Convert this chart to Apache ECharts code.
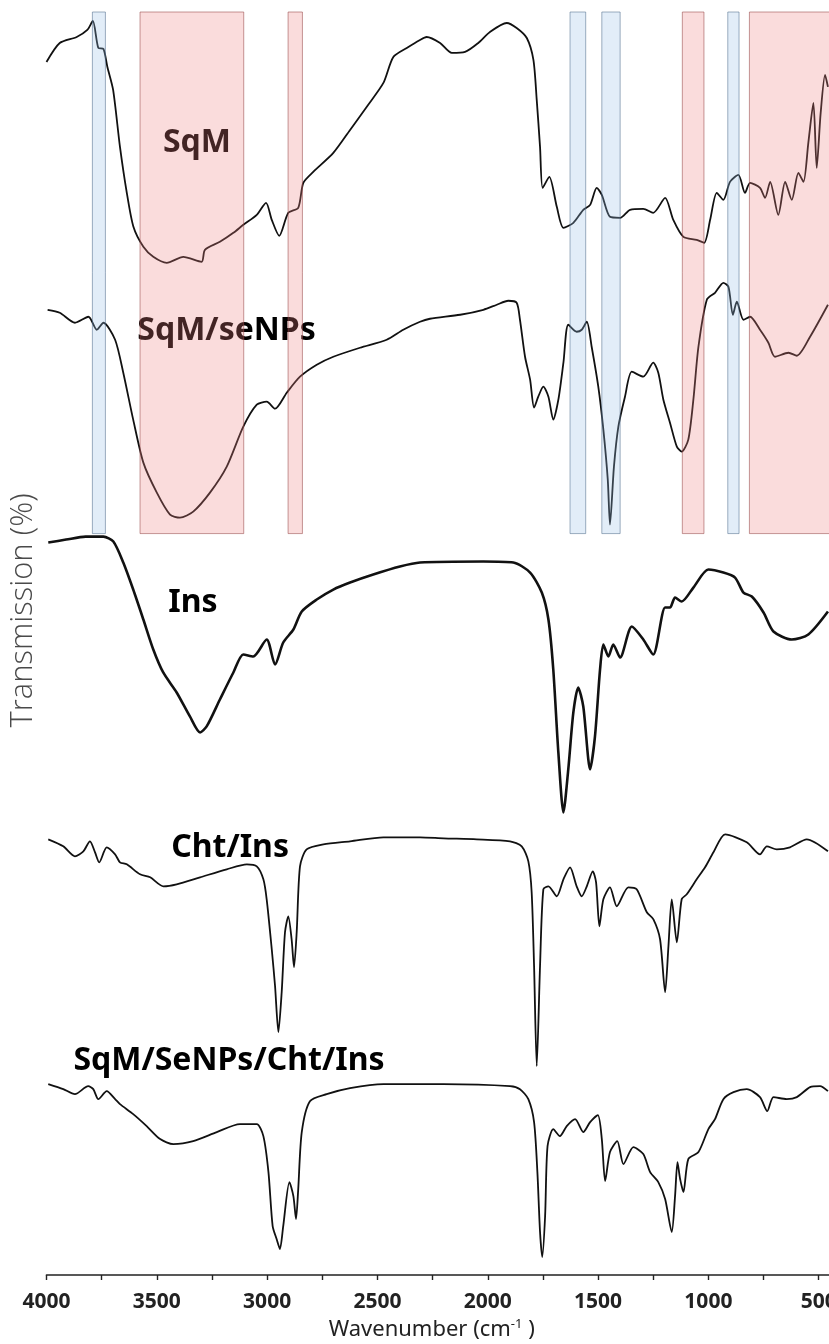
<!DOCTYPE html>
<html><head><meta charset="utf-8">
<script src="https://cdn.jsdelivr.net/npm/echarts/dist/echarts.min.js"></script>
<style>html,body{margin:0;padding:0;background:#fff}#c{width:829px;height:1344px}</style>
</head><body><div id="c"></div>
<script>
// Wavenumber (cm-1), offset transmission (a.u.)
const sqm = [[4000,121.4],[3940,123.3],[3863,123.9],[3815,124.6],[3790,125.5],[3765,122.8],[3742,122.7],[3724,120.9],[3698,118.6],[3667,112.9],[3636,108.3],[3606,104.9],[3561,102.9],[3516,101.9],[3455,101.3],[3380,101.9],[3297,101.4],[3282,102.6],[3214,103.4],[3153,104.3],[3108,105.1],[3047,106.1],[3005,107.3],[2979,105.6],[2945,104.0],[2904,106.3],[2859,106.8],[2836,109.3],[2791,110.4],[2700,112.3],[2624,114.6],[2549,116.9],[2473,119.3],[2428,121.9],[2367,122.8],[2307,123.6],[2277,123.9],[2216,123.3],[2163,122.3],[2103,122.4],[2043,123.3],[1990,124.4],[1914,125.3],[1869,124.8],[1823,123.8],[1793,121.6],[1778,117.6],[1763,112.9],[1751,108.8],[1721,109.9],[1687,106.9],[1657,104.8],[1612,105.3],[1567,106.6],[1536,107.1],[1506,108.8],[1483,108.1],[1446,105.9],[1400,105.8],[1355,106.6],[1295,106.7],[1250,106.3],[1196,107.8],[1159,105.6],[1113,103.9],[1053,103.6],[1019,103.3],[992,105.6],[962,108.3],[932,107.6],[902,109.4],[864,110.1],[834,108.3],[811,109.3],[766,108.8],[743,107.8],[720,109.4],[683,106.1],[652,109.4],[622,107.6],[592,110.3],[569,109.4],[547,113.3],[524,117.3],[509,110.8],[491,116.3],[471,120.1],[458,118.9]];
const sqmSe = [[3995,96.6],[3940,96.3],[3871,95.3],[3810,95.9],[3772,94.6],[3742,95.3],[3689,93.6],[3652,90.3],[3607,85.6],[3561,81.3],[3500,78.3],[3440,76.1],[3395,75.8],[3335,76.4],[3259,78.3],[3183,80.9],[3108,84.9],[3047,87.1],[3002,87.4],[2964,86.7],[2911,88.3],[2851,89.9],[2775,91.1],[2700,91.9],[2579,92.8],[2458,93.6],[2383,94.6],[2307,95.4],[2262,95.7],[2125,96.1],[2020,96.6],[1959,97.1],[1907,97.5],[1869,97.3],[1854,95.6],[1831,91.9],[1808,89.6],[1790,86.8],[1771,87.9],[1748,88.9],[1725,87.9],[1703,85.6],[1680,87.6],[1657,91.3],[1635,95.1],[1597,94.4],[1574,94.6],[1551,95.4],[1529,92.9],[1499,88.9],[1476,84.6],[1456,79.6],[1446,75.1],[1428,80.9],[1408,84.9],[1378,87.9],[1347,90.4],[1295,89.9],[1250,91.3],[1227,90.3],[1204,87.6],[1174,85.3],[1143,82.9],[1121,82.4],[1091,83.6],[1068,87.6],[1045,92.9],[1007,97.6],[970,98.3],[932,99.3],[909,98.9],[889,96.1],[871,97.4],[841,95.6],[811,95.9],[766,94.6],[728,93.3],[698,91.9],[637,92.3],[599,92.0],[539,93.9],[458,97.1]];
const ins = [[3992,73.3],[3911,73.6],[3823,73.9],[3742,73.9],[3697,73.4],[3652,71.3],[3607,68.6],[3561,65.6],[3516,62.6],[3471,60.3],[3410,58.3],[3350,55.9],[3304,54.3],[3274,54.9],[3214,57.6],[3153,60.3],[3108,62.1],[3063,61.9],[3002,63.6],[2964,61.1],[2927,63.3],[2881,64.6],[2843,66.4],[2775,67.6],[2700,68.6],[2624,69.3],[2519,70.1],[2398,70.9],[2307,71.3],[2020,71.4],[1884,71.3],[1808,70.3],[1755,68.3],[1725,65.6],[1703,60.6],[1680,52.3],[1657,46.3],[1635,50.6],[1612,56.3],[1590,58.8],[1567,56.9],[1536,50.6],[1514,53.9],[1491,60.6],[1476,63.1],[1453,61.9],[1431,63.1],[1400,61.8],[1347,64.9],[1295,63.6],[1250,62.1],[1196,66.8],[1174,66.8],[1151,67.8],[1121,67.4],[1068,68.8],[1000,70.6],[932,70.3],[879,69.8],[841,68.3],[803,67.9],[750,66.3],[705,64.4],[622,63.6],[547,64.1],[458,66.4]];
const chtIns = [[3992,43.6],[3924,42.9],[3871,41.9],[3833,42.4],[3803,43.4],[3780,42.3],[3761,41.3],[3727,42.8],[3689,42.1],[3667,41.3],[3636,41.1],[3576,40.1],[3530,39.8],[3470,38.9],[3410,39.1],[3304,39.8],[3183,40.6],[3092,41.1],[3047,40.9],[3017,39.6],[3002,37.6],[2979,32.6],[2964,28.9],[2949,24.3],[2934,28.3],[2919,34.3],[2904,35.9],[2889,33.6],[2878,30.8],[2866,34.3],[2851,40.9],[2821,42.6],[2745,43.1],[2624,43.4],[2473,43.8],[2307,43.8],[2201,43.7],[2050,43.6],[1899,43.4],[1846,42.9],[1816,41.4],[1801,38.3],[1790,30.9],[1778,20.9],[1763,30.9],[1748,38.6],[1725,38.9],[1687,37.9],[1657,39.6],[1627,40.8],[1597,38.9],[1574,37.9],[1551,38.9],[1524,40.4],[1509,39.3],[1494,34.9],[1476,37.6],[1446,38.8],[1415,36.9],[1363,38.8],[1325,38.6],[1279,36.3],[1249,35.6],[1219,33.6],[1196,28.3],[1181,32.9],[1166,37.6],[1143,33.3],[1121,37.6],[1098,38.1],[1053,39.6],[1015,40.8],[977,42.3],[924,44.1],[826,43.3],[766,42.1],[735,42.9],[690,42.6],[630,42.8],[554,43.6],[458,42.4]];
const sqmSeChtIns = [[3992,19.1],[3924,18.6],[3871,18.1],[3811,18.9],[3788,18.6],[3765,17.6],[3727,18.4],[3689,17.6],[3667,17.1],[3607,16.1],[3546,14.9],[3485,13.6],[3425,13.1],[3335,13.4],[3228,14.3],[3123,15.1],[3047,15.1],[3017,13.9],[2994,10.3],[2975,4.9],[2957,3.6],[2942,2.6],[2927,4.9],[2899,9.3],[2881,7.9],[2869,5.6],[2859,8.6],[2843,14.3],[2806,17.4],[2730,18.1],[2624,18.7],[2473,19.1],[2307,19.1],[2201,19.1],[1899,18.9],[1854,18.6],[1816,17.6],[1790,15.3],[1775,10.3],[1763,4.3],[1753,1.8],[1740,5.9],[1729,12.9],[1703,14.6],[1673,13.9],[1642,14.9],[1604,15.6],[1567,14.3],[1536,15.3],[1501,16.0],[1483,13.6],[1468,9.4],[1446,12.3],[1413,13.4],[1385,11.1],[1340,12.8],[1295,12.1],[1264,10.3],[1227,9.3],[1196,7.6],[1166,4.3],[1151,7.9],[1140,11.3],[1128,9.6],[1113,8.3],[1091,11.6],[1045,12.3],[1000,14.6],[970,15.6],[932,17.6],[886,18.3],[826,18.6],[766,17.8],[733,16.4],[705,17.8],[645,17.6],[599,17.8],[539,18.8],[494,18.9],[458,18.4]];

// Spectrum labels: [text, wavenumber, value]
const labels = [["SqM",3318,113.3],["SqM/seNPs",3184,94.5],["Ins",3336,67.3],["Cht/Ins",3168,42.7],["SqM/SeNPs/Cht/Ins",3173,21.4]];

// Highlight bands: [from, to, kind]
const bands = [[3792,3733,"b"],[3576,3106,"r"],[2905,2840,"r"],[1627,1556,"b"],[1483,1400,"b"],[1118,1020,"r"],[912,861,"b"],[814,0,"r"]];
const bandBottom = 74.2, bandTop = 126.4;
const xTicks = [4000,3500,3000,2500,2000,1500,1000,500];

const chart = echarts.init(document.getElementById('c'), null, {renderer:'canvas'});
const lineSeries = (d, w) => ({type:'line', data:d, showSymbol:false, smooth:0.25, z:2,
  lineStyle:{color:'#111', width:w, join:'round'}, silent:true, animation:false});
const narrow = "'Liberation Sans Narrow','Noto Sans',sans-serif";

chart.setOption({
  animation:false,
  backgroundColor:'#fff',
  grid:{left:46.5, top:12, bottom:69, right:-100, containLabel:false, outerBoundsMode:'none'},
  xAxis:{type:'value', min:0, max:4000, interval:500, inverse:true,
    axisLine:{show:true, onZero:false, lineStyle:{color:'#222', width:1.6}},
    axisTick:{show:true, length:5, lineStyle:{color:'#222', width:1.4}},
    minorTick:{show:true, splitNumber:2, length:5, lineStyle:{color:'#222', width:1.4}},
    splitLine:{show:false}, minorSplitLine:{show:false},
    axisLabel:{show:true, margin:17, color:'#222', fontSize:21, fontWeight:'bold', fontFamily:narrow,
      formatter: v => xTicks.includes(v) ? String(v) : ''},
    name:'Wavenumber (cm{sup|-1} )', nameLocation:'middle', nameGap:42,
    nameTextStyle:{fontSize:22, color:'#222', fontFamily:narrow,
      padding:[0,112,0,0], rich:{sup:{fontSize:13, verticalAlign:'top', padding:[0,0,10,0], fontFamily:narrow, color:'#222'}}}
  },
  yAxis:{type:'value', min:0, max:126.4,
    axisLine:{show:true, lineStyle:{color:'#222', width:1.6}},
    axisTick:{show:false}, axisLabel:{show:false}, splitLine:{show:false},
    name:'Transmission (%)', nameLocation:'middle', nameGap:8, nameRotate:90,
    nameTextStyle:{fontSize:31, color:'#4a4a4a', fontFamily:"'Open Sans',sans-serif", fontWeight:300, padding:[0,0,0,66]}
  },
  series:[
    lineSeries(sqm,1.8), lineSeries(sqmSe,1.8), lineSeries(ins,2.6), lineSeries(chtIns,1.8), lineSeries(sqmSeChtIns,1.8),
    {type:'scatter', z:3, silent:true, symbolSize:0, itemStyle:{opacity:1},
      data:labels.map(l=>({name:l[0], value:[l[1],l[2]]})),
      label:{show:true, position:'inside', formatter: p=>p.name, color:'#000', opacity:1, fontSize:32, fontWeight:'bold',
        fontFamily:"'Noto Sans',sans-serif"}},
    {type:'custom', z:10, silent:true, data:bands.map(b=>[b[0],b[1],bandBottom,bandTop,b[2]==='r'?1:0]),
      encode:{x:[0,1], y:[2,3]},
      renderItem:(params, api)=>{
        const p0 = api.coord([api.value(0), api.value(3)]);
        const p1 = api.coord([api.value(1), api.value(2)]);
        const red = api.value(4) === 1;
        return {type:'rect', shape:{x:Math.min(p0[0],p1[0]), y:Math.min(p0[1],p1[1]), width:Math.abs(p1[0]-p0[0]), height:Math.abs(p1[1]-p0[1])},
          style:{fill: red ? 'rgba(238,130,130,0.28)' : 'rgba(150,190,230,0.28)',
                 stroke: red ? 'rgba(150,70,70,0.55)' : 'rgba(80,110,140,0.55)', lineWidth:1}};
      }}
  ]
});
</script></body></html>
